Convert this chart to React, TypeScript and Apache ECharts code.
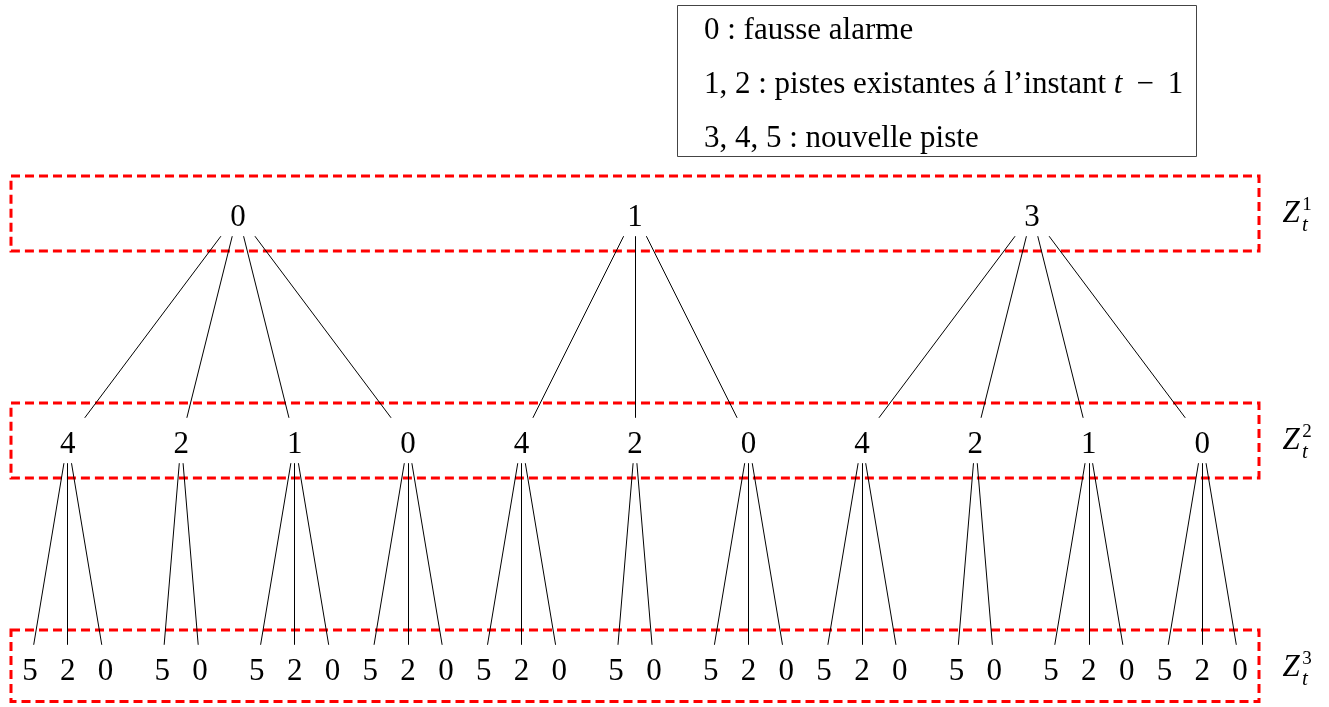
import React, { useEffect, useRef } from "react";
import * as echarts from "echarts";

// ---- data ----
const level1Labels = ["0", "1", "3"];
const level2Labels = ["4", "2", "1", "0", "4", "2", "0", "4", "2", "1", "0"];
const level2Parent = [0, 0, 0, 0, 1, 1, 1, 2, 2, 2, 2];
const level3Labels = ["5", "2", "0", "5", "0", "5", "2", "0", "5", "2", "0", "5", "2", "0", "5", "0", "5", "2", "0", "5", "2", "0", "5", "0", "5", "2", "0", "5", "2", "0"];
const level3Parent = [0, 0, 0, 1, 1, 2, 2, 2, 3, 3, 3, 4, 4, 4, 5, 5, 6, 6, 6, 7, 7, 7, 8, 8, 9, 9, 9, 10, 10, 10];
const levelNames = ["1", "2", "3"];
const legendMath = ["0", "1, 2", "3, 4, 5"];
const legendText = [" : fausse alarme", " : pistes existantes á l’instant ", " : nouvelle piste"];
const legendTail = ["", "t", ""];

const SERIF = "Liberation Serif";
const FS = 31;

function buildLayout() {
  const l2x = level2Labels.map((_, i) => i);
  const l1x = level1Labels.map((_, p) => {
    const kids = l2x.filter((_, i) => level2Parent[i] === p);
    return kids.reduce((a, b) => a + b, 0) / kids.length;
  });
  const l3x: number[] = [];
  level3Labels.forEach((_, i) => {
    const p = level3Parent[i];
    const sib = level3Parent.map((q, j) => (q === p ? j : -1)).filter((j) => j >= 0);
    const k = sib.indexOf(i);
    l3x.push(l2x[p] + (k - (sib.length - 1) / 2) / 3);
  });
  return { l1x, l2x, l3x };
}

export default function App() {
  const ref = useRef<HTMLDivElement>(null);
  useEffect(() => {
    if (!ref.current) return;
    const chart = echarts.init(ref.current, null, { renderer: "svg" });
    const { l1x, l2x, l3x } = buildLayout();

    const nodes = [
      ...level1Labels.map((l, i) => ({ value: [l1x[i], 1], name: l })),
      ...level2Labels.map((l, i) => ({ value: [l2x[i], 2], name: l })),
      ...level3Labels.map((l, i) => ({ value: [l3x[i], 3], name: l })),
    ];

    const edge = (px: number, py: number, cx: number, cy: number) => {
      const a = 0.1, b = 0.9;
      return {
        coords: [
          [px + (cx - px) * a, py + (cy - py) * a],
          [px + (cx - px) * b, py + (cy - py) * b],
        ],
      };
    };
    const edges = [
      ...level2Labels.map((_, i) => edge(l1x[level2Parent[i]], 1, l2x[i], 2)),
      ...level3Labels.map((_, i) => edge(l2x[level3Parent[i]], 2, l3x[i], 3)),
    ];

    const H = 0.165;
    const boxes = levelNames.map((_, i) => [
      { xAxis: -0.5, yAxis: i + 1 - H },
      { xAxis: 10.5, yAxis: i + 1 + H },
    ]);

    const zData = levelNames.map((n, i) => ({ value: [10.5, i + 1], name: n }));

    const labelSeries = (data: any[], formatter: any, offset: number[], fontSize: number, italic: boolean) => ({
      type: "scatter",
      symbolSize: 1,
      itemStyle: { color: "rgba(0,0,0,0)", opacity: 1 },
      silent: true,
      label: {
        show: true,
        position: "inside",
        offset,
        formatter,
        fontFamily: SERIF,
        fontSize,
        fontStyle: italic ? "italic" : "normal",
        color: "#000",
        opacity: 1,
      },
      data,
    });

    chart.setOption({
      animation: false,
      grid: { left: 11, right: 70, top: 156.75, bottom: 5.45 },
      xAxis: { type: "value", min: -0.5, max: 10.5, show: false },
      yAxis: { type: "value", min: 0.75, max: 3.15, inverse: true, show: false },
      graphic: [
        {
          type: "rect",
          shape: { x: 677.5, y: 5.5, width: 519, height: 151 },
          style: { fill: "#fff", stroke: "#444", lineWidth: 1 },
        },
        ...legendMath.map((m, i) => ({
          type: "text",
          x: 704,
          y: 28 + i * 54,
          style: {
            text: `{n|${m}${legendText[i]}}` + (legendTail[i] ? `{i|${legendTail[i]}}{n| \u2009−\u2009 1}` : ""),
            fontFamily: SERIF,
            fontSize: FS,
            verticalAlign: "middle",
            fill: "#000",
            rich: {
              n: { fontFamily: SERIF, fontSize: FS },
              i: { fontFamily: SERIF, fontSize: FS, fontStyle: "italic" },
            },
          },
        })),
      ],
      series: [
        {
          ...labelSeries(nodes, (p: any) => p.name, [0, 2], FS, false),
          markArea: {
            silent: true,
            itemStyle: {
              color: "transparent",
              borderColor: "#ff0000",
              borderWidth: 3,
              borderType: [9, 5],
            },
            data: boxes,
          },
        },
        labelSeries(zData, "Z", [32, -2], FS, true),
        labelSeries(zData, (p: any) => p.name, [48, -10], 19, false),
        labelSeries(zData, "t", [46, 10], 21, true),
        {
          type: "lines",
          coordinateSystem: "cartesian2d",
          silent: true,
          lineStyle: { color: "#000", width: 1, opacity: 1 },
          data: edges,
        },
      ],
    });
    return () => chart.dispose();
  }, []);
  return (
    <div ref={ref} style={{ position: "fixed", left: 0, top: 0, width: 1329, height: 707 }} />
  );
}
